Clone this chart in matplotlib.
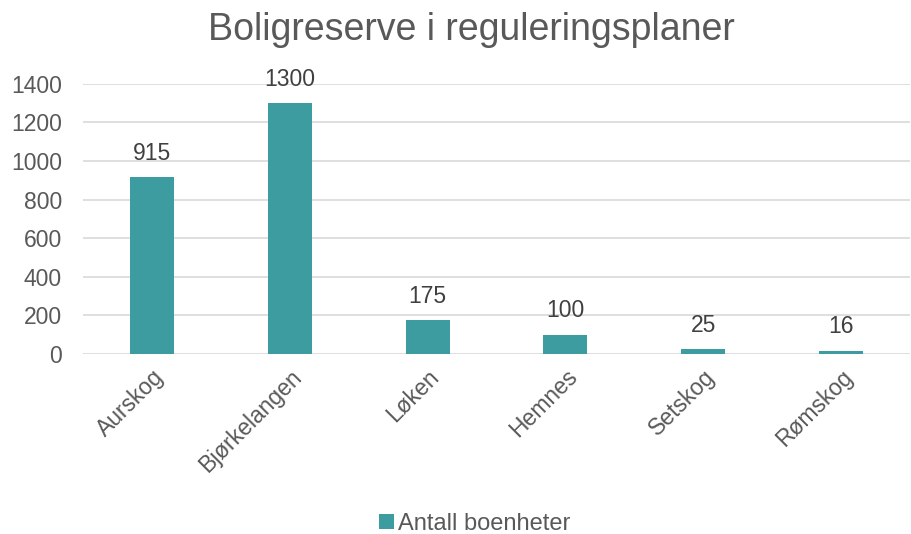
import matplotlib.pyplot as plt
import numpy as np

plt.rcParams['font.family'] = ['Liberation Sans', 'DejaVu Sans']

# data
steder = ["Aurskog", "Bjørkelangen", "Løken", "Hemnes", "Setskog", "Rømskog"]
boenheter = [915, 1300, 175, 100, 25, 16]
yticks = [0, 200, 400, 600, 800, 1000, 1200, 1400]

bar_color = "#3D9CA0"
text_color = "#595959"

fig = plt.figure(figsize=(9.11, 5.34), dpi=100)
ax = fig.add_axes([0.091, 0.337, 0.908, 0.506])

x = np.arange(len(steder))
bars = ax.bar(x, boenheter, width=0.32, color=bar_color, label="Antall boenheter", zorder=3)

for b, v in zip(bars, boenheter):
    ax.annotate(str(v), (b.get_x() + b.get_width() / 2, v), xytext=(0, 9),
                textcoords="offset points", ha="center", va="bottom",
                fontsize=16.5, color="#404040")

ax.set_xlim(-0.5, len(steder) - 0.5)
ax.set_ylim(0, 1400)
ax.set_yticks(yticks)
ax.set_xticks(x)
ax.set_xticklabels(steder, rotation=45, ha="right", rotation_mode="anchor")
ax.tick_params(axis="both", length=0, labelsize=16.5, colors=text_color)
ax.tick_params(axis="y", pad=15)
ax.tick_params(axis="x", pad=8)
ax.grid(axis="y", color="#D9D9D9", linewidth=1.2, zorder=0)
for s in ax.spines.values():
    s.set_visible(False)

fig.text(471 / 911, 1 - 30 / 534, "Boligreserve i reguleringsplaner", ha="center", va="center",
         fontsize=27, color=text_color)

fig.legend(handles=[bars], labels=["Antall boenheter"], loc="center",
           bbox_to_anchor=(475 / 911, 1 - 524 / 534), frameon=False, fontsize=17,
           handlelength=0.6, handleheight=0.6, handletextpad=0.2,
           labelcolor=text_color)

plt.savefig("out.png", dpi=100)
